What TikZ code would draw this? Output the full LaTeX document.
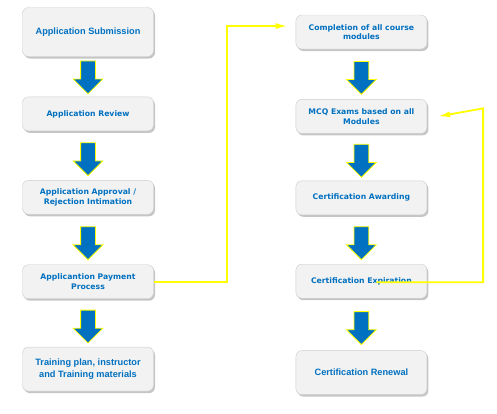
\documentclass[tikz,border=0pt]{standalone}
\usepackage{fontspec}
\usetikzlibrary{shapes.arrows, arrows.meta, positioning, shadows}
\newfontfamily\bigfont{Liberation Sans}
\newfontfamily\smallfont{DejaVu Sans}
\newcommand\bigtext{\bigfont\bfseries\fontsize{9.2}{12.7}\selectfont}
\newcommand\smalltext{\smallfont\bfseries\fontsize{7.7}{9.5}\selectfont}
\definecolor{flowblue}{HTML}{0070C0}
\definecolor{boxgray}{HTML}{F2F2F2}
\definecolor{linkyellow}{HTML}{FFFF00}
\tikzstyle{stage} = [rectangle, draw=black!20, fill=boxgray, rounded corners=6pt, minimum width=131pt, minimum height=34pt, align=center, text=flowblue, drop shadow={shadow xshift=1.5pt, shadow yshift=-2pt, fill=black!45}]
\tikzstyle{flow} = [single arrow, draw=linkyellow, line width=0.8pt, fill=flowblue, minimum height=33pt, inner sep=7pt, single arrow head extend=7.5pt, shape border rotate=270]
\tikzstyle{link} = [draw=linkyellow, line width=1.8pt, -{Latex[length=12pt, width=6pt]}]

\begin{document}
\begin{tikzpicture}[node distance=48pt and 142pt]
        \useasboundingbox (0,0) rectangle (497pt,-413pt);
        % Nodes
        \node [stage, minimum height=49pt, font=\bigtext] (sub) at (88pt,-32pt) {Application Submission};
        \node [stage, font=\smalltext, below=40pt of sub] (rev) {Application Review};
        \node [stage, font=\smalltext, below=49pt of rev] (appr) {Application Approval /\\Rejection Intimation};
        \node [stage, font=\smalltext, below=50pt of appr] (pay) {Applicantion Payment\\Process};
        \node [stage, minimum height=44pt, font=\bigtext, below=of pay] (train) {Training plan, instructor\\and Training materials};
        \node [stage, font=\smalltext, right=of sub] (comp) {Completion of all course\\modules};
        \node [stage, font=\smalltext, below=50pt of comp] (mcq) {MCQ Exams based on all\\Modules};
        \node [stage, font=\smalltext, below=47pt of mcq] (award) {Certification Awarding};
        \node [stage, font=\smalltext, below=49pt of award] (expir) {Certification Expiration};
        \node [stage, minimum height=44pt, font=\bigtext, below=52pt of expir] (renew) {Certification Renewal};

        % Arrows
        \path (sub.south) -- node[flow, yshift=3pt] {} (rev.north);
        \path (rev.south) -- node[flow] {} (appr.north);
        \path (appr.south) -- node[flow] {} (pay.north);
        \path (pay.south) -- node[flow] {} (train.north);
        \path (comp.south) -- node[flow] {} (mcq.north);
        \path (mcq.south) -- node[flow] {} (award.north);
        \path (award.south) -- node[flow] {} (expir.north);
        \path (expir.south) -- node[flow] {} (renew.north);

        % Links
        \coordinate (up) at ([xshift=56pt, yshift=8pt]mcq.east);
        \path [link] (pay.east) -- ++(73pt,0) |- ([xshift=-8pt, yshift=6pt]comp.west);
        \path [link] ([xshift=15pt, yshift=-1pt]expir.center) -| (up) -- ([xshift=11pt]mcq.east);
    \end{tikzpicture}
\end{document}
